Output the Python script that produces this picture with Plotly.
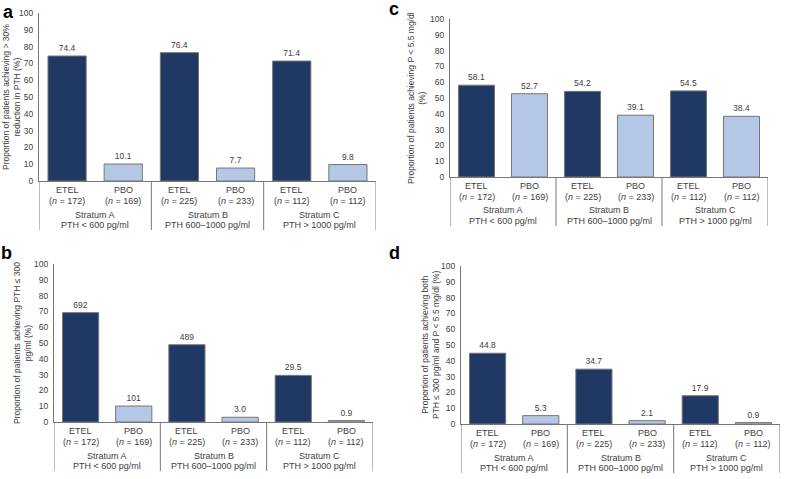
import plotly.graph_objects as go

# ---------------- data ----------------
arms = ["ETEL", "PBO", "ETEL", "PBO", "ETEL", "PBO"]
n_values = ["172", "169", "225", "233", "112", "112"]
strata = ["Stratum A", "Stratum B", "Stratum C"]
strata_pth = ["PTH < 600 pg/ml", "PTH 600–1000 pg/ml", "PTH > 1000 pg/ml"]
y_ticks = [0, 10, 20, 30, 40, 50, 60, 70, 80, 90, 100]

values_a = [74.4, 10.1, 76.4, 7.7, 71.4, 9.8]
labels_a = ["74.4", "10.1", "76.4", "7.7", "71.4", "9.8"]
values_b = [69.2, 10.1, 48.9, 3.0, 29.5, 0.9]
labels_b = ["692", "101", "489", "3.0", "29.5", "0.9"]
values_c = [58.1, 52.7, 54.2, 39.1, 54.5, 38.4]
labels_c = ["58.1", "52.7", "54.2", "39.1", "54.5", "38.4"]
values_d = [44.8, 5.3, 34.7, 2.1, 17.9, 0.9]
labels_d = ["44.8", "5.3", "34.7", "2.1", "17.9", "0.9"]

title_a = "Proportion of patients achieving > 30%<br>reduction in PTH (%)"
title_b = "Proportion of patients achieving PTH ≤ 300<br>pg/ml (%)"
title_c = "Proportion of patients achieving P < 5.5 mg/dl<br>(%)"
title_d = "Proportion of patients achieving both<br>PTH ≤ 300 pg/ml and P < 5.5 mg/dl (%)"

# ---------------- style ----------------
W, H = 790, 479
DARK = "#1f3864"
LIGHT = "#b4c7e7"
EDGE = "#767676"
TXT = "#404040"
FONT = "Liberation Sans, Arial, sans-serif"

panels = [
    dict(key="", vals=values_a, labs=labels_a, title=title_a, px=(39, 376, 13, 181), tx=11, letter="a", lx=8, ly=11.5),
    dict(key="2", vals=values_b, labs=labels_b, title=title_b, px=(54, 373, 264, 422), tx=22, letter="b", lx=6, ly=253),
    dict(key="3", vals=values_c, labs=labels_c, title=title_c, px=(450, 768, 19, 177), tx=416, letter="c", lx=394, ly=9.5),
    dict(key="4", vals=values_d, labs=labels_d, title=title_d, px=(461, 780, 266, 424), tx=430, letter="d", lx=394, ly=253),
]

fig = go.Figure()
annotations = []
shapes = []
layout_axes = {}
colors = [DARK if a == "ETEL" else LIGHT for a in arms]
xpos = list(range(len(arms)))
cat_font = dict(size=9, color=TXT, family=FONT)

for p in panels:
    k = p["key"]
    x0, x1, yt, yb = p["px"]
    h = yb - yt
    xa = "x" + k
    ya = "y" + k
    fig.add_trace(go.Bar(
        x=xpos, y=p["vals"], text=p["labs"], textposition="outside",
        textfont=dict(size=8.5, color=TXT, family=FONT),
        marker=dict(color=colors, line=dict(color=EDGE, width=1)),
        width=0.68, cliponaxis=False, showlegend=False,
        xaxis=xa, yaxis=ya, hoverinfo="skip",
    ))
    layout_axes["xaxis" + k] = dict(
        domain=[x0 / W, x1 / W], range=[-0.5, 5.5], anchor=ya,
        showticklabels=False, ticks="", showgrid=False, zeroline=False,
        showline=True, linecolor=EDGE, linewidth=1,
    )
    layout_axes["yaxis" + k] = dict(
        domain=[1 - yb / H, 1 - yt / H], range=[0, 100], anchor=xa,
        tickvals=y_ticks, ticks="outside", ticklen=3, tickcolor="rgba(0,0,0,0)",
        showgrid=False, zeroline=False,
        showline=True, linecolor=EDGE, linewidth=1,
        tickfont=dict(size=8.5, color=TXT, family=FONT),
    )
    ydom = ya + " domain"
    for sx in [-0.5, 1.5, 3.5, 5.5]:
        shapes.append(dict(type="line", xref=xa, yref=ydom, x0=sx, x1=sx,
                           y0=0, y1=-49 / h, line=dict(color=EDGE, width=1)))
    for i, (arm, n) in enumerate(zip(arms, n_values)):
        annotations.append(dict(xref=xa, yref=ydom, x=i, y=-9 / h, text=arm,
                                xanchor="center", yanchor="middle",
                                showarrow=False, font=cat_font))
        annotations.append(dict(xref=xa, yref=ydom, x=i, y=-20 / h,
                                text="(<i>n</i> = " + n + ")",
                                xanchor="center", yanchor="middle",
                                showarrow=False, font=cat_font))
    for j, (s, pth) in enumerate(zip(strata, strata_pth)):
        annotations.append(dict(xref=xa, yref=ydom, x=2 * j + 0.5, y=-33.5 / h, text=s,
                                xanchor="center", yanchor="middle",
                                showarrow=False, font=cat_font))
        annotations.append(dict(xref=xa, yref=ydom, x=2 * j + 0.5, y=-44 / h, text=pth,
                                xanchor="center", yanchor="middle",
                                showarrow=False, font=cat_font))
    annotations.append(dict(xref="paper", yref=ydom, x=p["tx"] / W, y=0.5,
                            text=p["title"], textangle=-90, showarrow=False,
                            xanchor="center", yanchor="middle",
                            font=dict(size=8.5, color=TXT, family=FONT)))
    annotations.append(dict(xref="paper", yref="paper", x=p["lx"] / W, y=1 - p["ly"] / H,
                            text="<b>" + p["letter"] + "</b>", showarrow=False,
                            xanchor="center", yanchor="middle",
                            font=dict(size=18, color="#000000", family=FONT)))

fig.update_layout(
    width=W, height=H,
    margin=dict(l=0, r=0, t=0, b=0, autoexpand=False),
    paper_bgcolor="white", plot_bgcolor="white",
    annotations=annotations, shapes=shapes,
    font=dict(family=FONT, color=TXT),
    **layout_axes,
)

fig.write_html("out.html", config={"displayModeBar": False},
               post_script="document.body.style.margin='0';")
